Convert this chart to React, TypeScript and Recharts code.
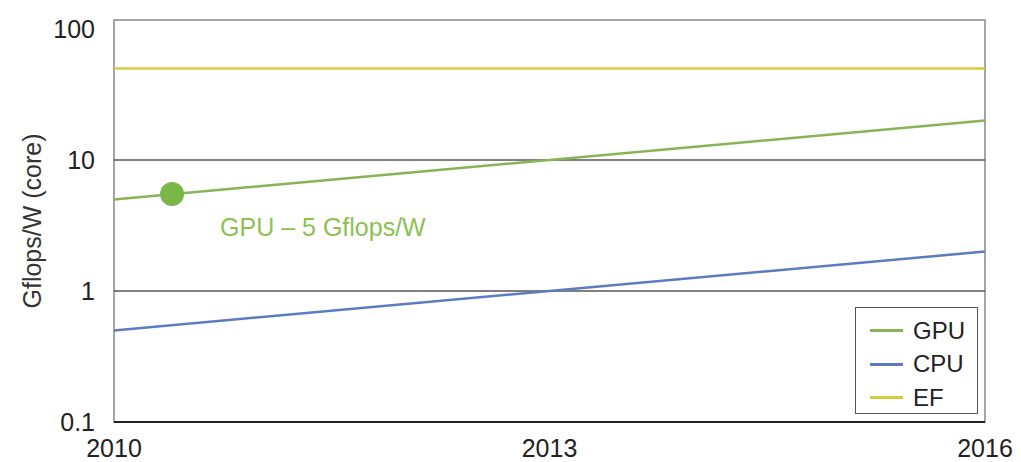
import {
  LineChart,
  Line,
  XAxis,
  YAxis,
  ReferenceLine,
  ReferenceDot,
  ReferenceArea,
} from "recharts";

// #region Data
const years = [2010, 2016];
const gpu = [5, 20];
const cpu = [0.5, 2];
const ef = [50, 50];

const xTicks = [2010, 2013, 2016];
const yTicks = [0.1, 1, 10, 100];
const gridValues = [1, 10];

// GPU marker on the line
const markerYear = 2010.4;
const markerValue = 5.5;
const markerLabel = "GPU – 5 Gflops/W";
// #endregion

const data = years.map((year, i) => ({
  year,
  GPU: gpu[i],
  CPU: cpu[i],
  EF: ef[i],
}));

const series = [
  { key: "GPU", color: "#86b457" },
  { key: "CPU", color: "#5b7cc0" },
  { key: "EF", color: "#d8cc3e" },
];

const FONT = '"Liberation Sans", Arial, sans-serif';
const FS = 25;

const LegendBox = () => (
  <div
    style={{
      position: "absolute",
      left: 855,
      top: 307,
      width: 123,
      height: 107,
      boxSizing: "border-box",
      border: "1.5px solid #555",
      background: "white",
      padding: "6px 0 0 14px",
      fontFamily: FONT,
      fontSize: 24,
      color: "#222",
    }}
  >
    {series.map((s) => (
      <div
        key={s.key}
        style={{ display: "flex", alignItems: "center", height: 33.5 }}
      >
        <span
          style={{
            display: "inline-block",
            width: 33,
            height: 3,
            background: s.color,
            marginRight: 10,
          }}
        />
        {s.key}
      </div>
    ))}
  </div>
);

const MarkerLabel = ({ viewBox }: any) => {
  const cx = viewBox.x + viewBox.width / 2;
  const cy = viewBox.y + viewBox.height / 2;
  return (
    <text
      x={cx + 48}
      y={cy + 42}
      fill="#8cc152"
      fontSize={FS}
      fontFamily={FONT}
    >
      {markerLabel}
    </text>
  );
};

const App = () => {
  return (
    <div
      style={{
        position: "fixed",
        left: 0,
        top: 0,
        width: 1021,
        height: 462,
        background: "white",
      }}
    >
      <LineChart
        width={1021}
        height={462}
        data={data}
        margin={{ top: 20, right: 36, left: 54, bottom: 10 }}
      >
        <XAxis
          dataKey="year"
          type="number"
          domain={[2010, 2016]}
          ticks={xTicks}
          tickLine={false}
          axisLine={false}
          tick={{ fill: "#222", fontSize: FS, fontFamily: FONT }}
          tickMargin={11}
          height={30}
          interval={0}
        />
        <YAxis
          scale="log"
          type="number"
          domain={[0.1, 117]}
          ticks={yTicks}
          allowDataOverflow
          tickLine={false}
          axisLine={false}
          tick={{ fill: "#222", fontSize: FS, fontFamily: FONT }}
          tickMargin={13}
          tickFormatter={(v: number) => String(v)}
          width={60}
          interval={0}
          label={{
            value: "Gflops/W (core)",
            angle: -90,
            position: "insideLeft",
            dx: -27,
            style: {
              textAnchor: "middle",
              fill: "#333",
              fontSize: FS,
              fontFamily: FONT,
            },
          }}
        />
        <ReferenceArea
          x1={2010}
          x2={2016}
          y1={0.1}
          y2={117}
          fill="none"
          stroke="#888"
          strokeWidth={1.5}
          ifOverflow="visible"
        />
        {gridValues.map((v) => (
          <ReferenceLine key={v} y={v} stroke="#555" strokeWidth={1.5} />
        ))}
        <ReferenceLine y={0.1} stroke="#222" strokeWidth={2} />
        {series.map((s) => (
          <Line
            key={s.key}
            type="linear"
            dataKey={s.key}
            stroke={s.color}
            strokeWidth={2.5}
            dot={false}
            isAnimationActive={false}
          />
        ))}
        <ReferenceDot
          x={markerYear}
          y={markerValue}
          r={12}
          fill="#7ab648"
          stroke="none"
          label={<MarkerLabel />}
        />
      </LineChart>
      <LegendBox />
    </div>
  );
};

export default App;
